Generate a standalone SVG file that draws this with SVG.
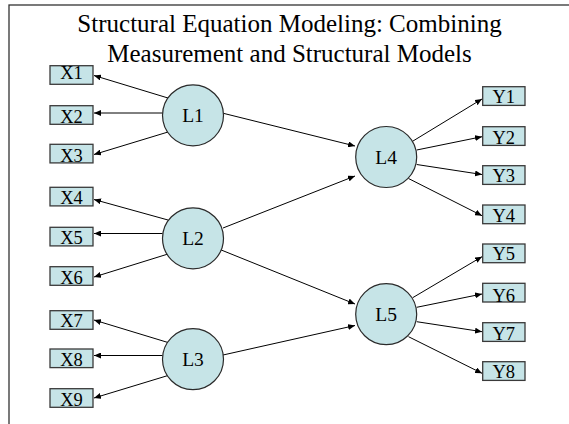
<svg xmlns="http://www.w3.org/2000/svg" width="569" height="424" viewBox="0 0 569 424">
<defs>
<marker id="ah" markerUnits="userSpaceOnUse" markerWidth="7" markerHeight="6" refX="7" refY="3" orient="auto">
<path d="M0,0 L7,3 L0,6 z" fill="#000"/>
</marker>
<style>
.bx{fill:#c6e4e7;stroke:#3a3a3a;stroke-width:1.3}
.lv{fill:#c6e4e7;stroke:#2a2a2a;stroke-width:1.2}
.t{font-family:"Liberation Serif","Times New Roman",serif;fill:#000;text-anchor:middle}
.bt{font-size:18.5px}
.lt{font-size:19.5px}
.ttl{font-size:25px}
#connectors line{stroke:#000;stroke-width:1;marker-end:url(#ah)}
</style>
</defs>
<rect width="569" height="424" fill="#fff"/>
<rect x="9" y="5" width="620" height="500" fill="none" stroke="#333" stroke-width="1.3"/>
<g id="title">
<text class="t ttl" x="289.5" y="32">Structural Equation Modeling: Combining</text>
<text class="t ttl" x="289.5" y="62">Measurement and Structural Models</text>
</g>
<g id="connectors">
<line x1="168" y1="98" x2="94" y2="75.5"/>
<line x1="162.5" y1="113" x2="94" y2="113"/>
<line x1="168" y1="132" x2="94" y2="154.5"/>
<line x1="168" y1="220" x2="94" y2="199.5"/>
<line x1="162.5" y1="233.5" x2="94" y2="233.5"/>
<line x1="168" y1="254" x2="94" y2="277"/>
<line x1="168" y1="342.5" x2="94" y2="320"/>
<line x1="162.5" y1="355.5" x2="94" y2="355.5"/>
<line x1="168" y1="375.5" x2="94" y2="398"/>
<line x1="223.3" y1="113.3" x2="355" y2="146"/>
<line x1="223" y1="228" x2="355" y2="176"/>
<line x1="220" y1="249.5" x2="355" y2="304"/>
<line x1="223" y1="355" x2="355" y2="325.5"/>
<line x1="413" y1="141" x2="482" y2="99"/>
<line x1="416.7" y1="150" x2="482" y2="136.7"/>
<line x1="416.7" y1="164.5" x2="482" y2="174.5"/>
<line x1="408.5" y1="178.5" x2="482" y2="215.7"/>
<line x1="412.7" y1="297.7" x2="482" y2="256.7"/>
<line x1="416.7" y1="307.3" x2="482" y2="294"/>
<line x1="416.7" y1="321.7" x2="482" y2="331.7"/>
<line x1="408.5" y1="336.7" x2="482" y2="373.3"/>
</g>
<g id="X1"><rect class="bx" x="50" y="65.7" width="43" height="18.6"/><text class="t bt" x="71.5" y="78.5">X1</text></g>
<g id="X2"><rect class="bx" x="50" y="105.7" width="43" height="18.6"/><text class="t bt" x="71.5" y="122.8">X2</text></g>
<g id="X3"><rect class="bx" x="50" y="144.3" width="43" height="18.6"/><text class="t bt" x="71.5" y="161.5">X3</text></g>
<g id="X4"><rect class="bx" x="50" y="187.3" width="43" height="18.6"/><text class="t bt" x="71.5" y="204">X4</text></g>
<g id="X5"><rect class="bx" x="50" y="227.3" width="43" height="18.6"/><text class="t bt" x="71.5" y="243.5">X5</text></g>
<g id="X6"><rect class="bx" x="50" y="266.7" width="43" height="18.6"/><text class="t bt" x="71.5" y="284">X6</text></g>
<g id="X7"><rect class="bx" x="50" y="310.7" width="43" height="18.6"/><text class="t bt" x="71.5" y="326.5">X7</text></g>
<g id="X8"><rect class="bx" x="50" y="349" width="43" height="18.6"/><text class="t bt" x="71.5" y="366">X8</text></g>
<g id="X9"><rect class="bx" x="50" y="388.7" width="43" height="18.6"/><text class="t bt" x="71.5" y="405.5">X9</text></g>
<g id="L1"><circle class="lv" cx="193" cy="115.3" r="30.5"/><text class="t lt" x="193" y="122">L1</text></g>
<g id="L2"><circle class="lv" cx="193" cy="238.3" r="30.5"/><text class="t lt" x="193" y="245">L2</text></g>
<g id="L3"><circle class="lv" cx="193" cy="359.2" r="30.5"/><text class="t lt" x="193" y="366">L3</text></g>
<g id="L4"><circle class="lv" cx="386.2" cy="157" r="30.5"/><text class="t lt" x="386.2" y="163.7">L4</text></g>
<g id="L5"><circle class="lv" cx="386.2" cy="314.2" r="30.5"/><text class="t lt" x="386.2" y="320.9">L5</text></g>
<g id="Y1"><rect class="bx" x="482.7" y="86.7" width="42.3" height="18.7"/><text class="t bt" x="503.8" y="103.3">Y1</text></g>
<g id="Y2"><rect class="bx" x="482.7" y="126.7" width="42.3" height="18.7"/><text class="t bt" x="503.8" y="144">Y2</text></g>
<g id="Y3"><rect class="bx" x="482.7" y="165.7" width="42.3" height="18.7"/><text class="t bt" x="503.8" y="182.4">Y3</text></g>
<g id="Y4"><rect class="bx" x="482.7" y="205" width="42.3" height="18.7"/><text class="t bt" x="503.8" y="222.2">Y4</text></g>
<g id="Y5"><rect class="bx" x="482.7" y="244" width="42.3" height="18.7"/><text class="t bt" x="503.8" y="260">Y5</text></g>
<g id="Y6"><rect class="bx" x="482.7" y="283.3" width="42.3" height="18.7"/><text class="t bt" x="503.8" y="301.5">Y6</text></g>
<g id="Y7"><rect class="bx" x="482.7" y="322.7" width="42.3" height="18.7"/><text class="t bt" x="503.8" y="340">Y7</text></g>
<g id="Y8"><rect class="bx" x="482.7" y="361.7" width="42.3" height="18.7"/><text class="t bt" x="503.8" y="378.4">Y8</text></g>
</svg>
